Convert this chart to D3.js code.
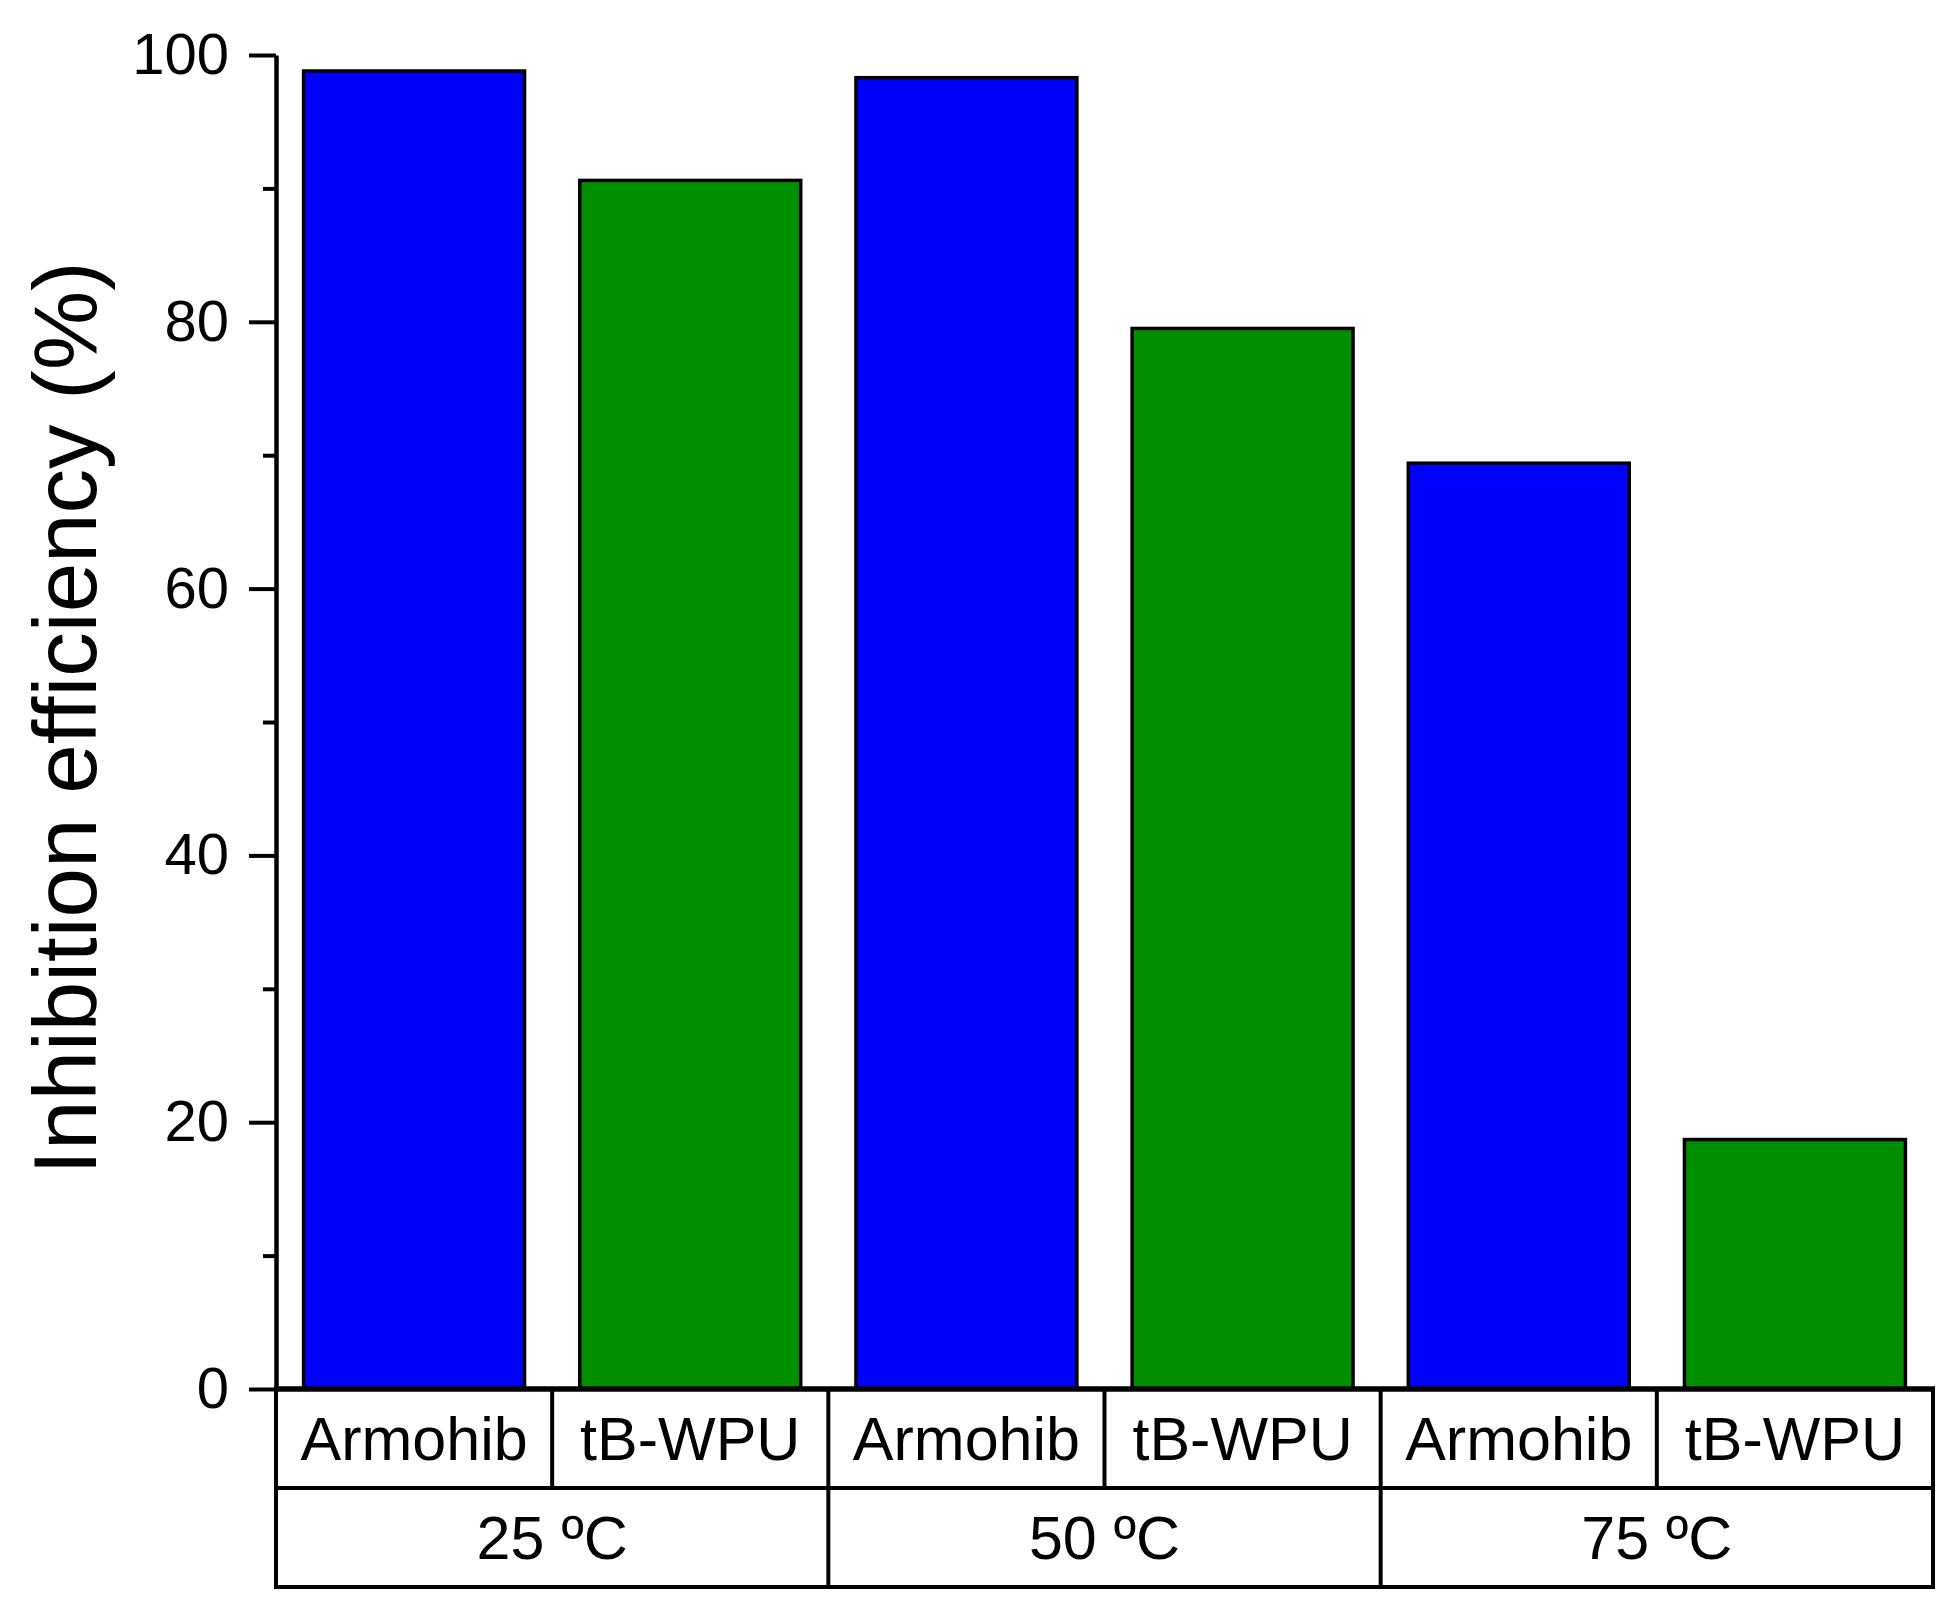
<!DOCTYPE html>
<html>
<head>
<meta charset="utf-8">
<script src="https://cdn.jsdelivr.net/npm/d3@7"></script>
<style>
  html, body { margin: 0; padding: 0; background: #fff; }
  svg { display: block; }
  text { font-family: "Liberation Sans", Arial, sans-serif; fill: #000; }
</style>
</head>
<body>
<svg id="chart" width="1959" height="1617"></svg>
<script>
// ---- data ----
const categories = ["Armohib", "tB-WPU", "Armohib", "tB-WPU", "Armohib", "tB-WPU"];
const groups = ["25 ºC", "50 ºC", "75 ºC"];
const values = [98.8, 90.6, 98.3, 79.5, 69.4, 18.7];
const seriesColors = ["#0000FF", "#008F00", "#0000FF", "#008F00", "#0000FF", "#008F00"];
const majorTicks = [0, 20, 40, 60, 80, 100];
const minorTicks = [10, 30, 50, 70, 90];
const yTitle = "Inhibition efficiency (%)";

(function () {
// ---- layout ----
const plotLeft = 276, plotRight = 1933, plotTop = 55, plotBottom = 1389;
const rowH = 99;

const svg = d3.select("#chart");
svg.append("rect").attr("width", 1959).attr("height", 1617).attr("fill", "#fff");

const idx = d3.range(categories.length);
const x = d3.scaleBand().domain(idx).range([plotLeft, plotRight]).paddingInner(0.2).paddingOuter(0.1);
const y = d3.scaleLinear().domain([0, 100]).range([plotBottom, plotTop]);

// bars
svg.append("g").selectAll("rect").data(idx).join("rect")
  .attr("x", i => x(i))
  .attr("y", i => y(values[i]))
  .attr("width", x.bandwidth())
  .attr("height", i => y(0) - y(values[i]))
  .attr("fill", i => seriesColors[i])
  .attr("stroke", "#000")
  .attr("stroke-width", 3.5);

// y axis - major
const yAxis = d3.axisLeft(y).tickValues(majorTicks).tickSize(27).tickPadding(20).tickSizeOuter(0);
const gy = svg.append("g").attr("transform", `translate(${plotLeft},0)`).call(yAxis);
gy.select(".domain").attr("stroke", "#000").attr("stroke-width", 4.5);
gy.selectAll(".tick line").attr("stroke", "#000").attr("stroke-width", 4);
gy.selectAll(".tick text").attr("font-size", 58).attr("font-family", "Liberation Sans, Arial, sans-serif");

// y axis - minor
const yMinor = d3.axisLeft(y).tickValues(minorTicks).tickSize(13).tickFormat("").tickSizeOuter(0);
const gm = svg.append("g").attr("transform", `translate(${plotLeft},0)`).call(yMinor);
gm.select(".domain").remove();
gm.selectAll(".tick line").attr("stroke", "#000").attr("stroke-width", 4);

// y title
svg.append("text")
  .attr("transform", `translate(96,718) rotate(-90)`)
  .attr("text-anchor", "middle")
  .attr("font-size", 89)
  .text(yTitle);

// ---- category table ----
const cellEdges = d3.range(categories.length + 1).map(i => plotLeft + i * (plotRight - plotLeft) / categories.length);
const tbl = svg.append("g");
tbl.append("line").attr("x1", plotLeft - 2).attr("x2", plotRight + 2).attr("y1", plotBottom).attr("y2", plotBottom)
  .attr("stroke", "#000").attr("stroke-width", 5.5);
tbl.append("line").attr("x1", plotLeft).attr("x2", plotRight).attr("y1", plotBottom + rowH).attr("y2", plotBottom + rowH)
  .attr("stroke", "#000").attr("stroke-width", 4);
tbl.append("line").attr("x1", plotLeft - 2).attr("x2", plotRight + 2).attr("y1", plotBottom + 2 * rowH).attr("y2", plotBottom + 2 * rowH)
  .attr("stroke", "#000").attr("stroke-width", 4);
tbl.selectAll("line.v1").data(cellEdges).join("line").attr("class", "v1")
  .attr("x1", d => d).attr("x2", d => d)
  .attr("y1", plotBottom).attr("y2", plotBottom + rowH)
  .attr("stroke", "#000").attr("stroke-width", 4);
const groupEdges = cellEdges.filter((d, i) => i % 2 === 0);
tbl.selectAll("line.v2").data(groupEdges).join("line").attr("class", "v2")
  .attr("x1", d => d).attr("x2", d => d)
  .attr("y1", plotBottom + rowH).attr("y2", plotBottom + 2 * rowH)
  .attr("stroke", "#000").attr("stroke-width", 4);

tbl.selectAll("text.c").data(idx).join("text").attr("class", "c")
  .attr("x", i => (cellEdges[i] + cellEdges[i + 1]) / 2)
  .attr("y", plotBottom + rowH / 2 + 21)
  .attr("text-anchor", "middle")
  .attr("font-size", 61)
  .text(i => categories[i]);

tbl.selectAll("text.g").data(groups).join("text").attr("class", "g")
  .attr("x", (d, i) => (groupEdges[i] + groupEdges[i + 1]) / 2)
  .attr("y", plotBottom + rowH * 1.5 + 21)
  .attr("text-anchor", "middle")
  .attr("font-size", 61)
  .text(d => d);
})();
</script>
</body>
</html>
